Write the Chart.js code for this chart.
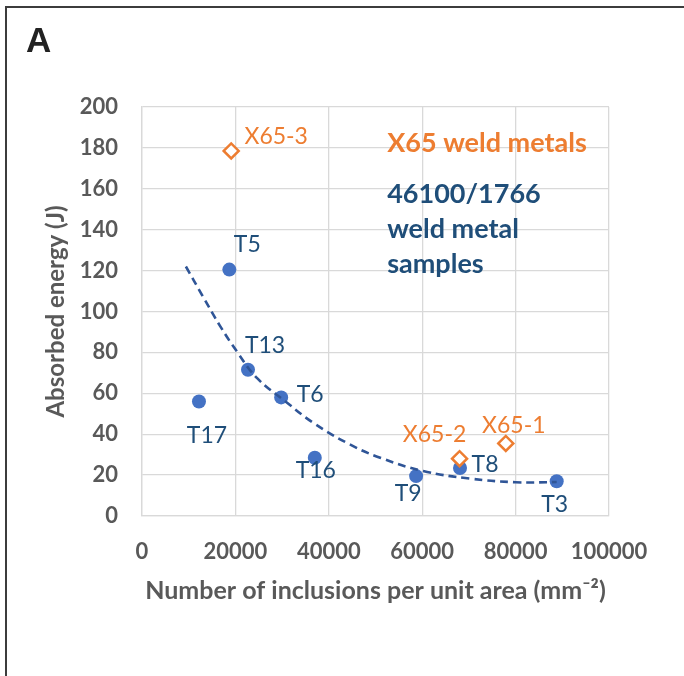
<!DOCTYPE html>
<html>
<head>
<meta charset="utf-8">
<script src="https://cdn.jsdelivr.net/npm/chart.js@4.4.1/dist/chart.umd.min.js"></script>
<style>
  html, body { margin: 0; padding: 0; background: #fff; }
  #wrap { width: 684px; height: 676px; }
</style>
</head>
<body>
<div id="wrap"><canvas id="chart" width="684" height="676"></canvas></div>
<script>
// 46100/1766 weld metal samples
const sampleNames = ['T17', 'T5', 'T13', 'T6', 'T16', 'T9', 'T8', 'T3'];
const sampleInclusions = [12200, 18700, 22700, 29800, 37000, 58700, 68100, 88800];
const sampleEnergy = [56, 120.5, 71.5, 58, 28.5, 19.5, 23.5, 17];

// X65 weld metals
const x65Names = ['X65-3', 'X65-2', 'X65-1'];
const x65Inclusions = [19100, 68000, 77900];
const x65Energy = [178.5, 28, 35.5];

// trend line
const trendInclusions = [9400, 13000, 16700, 20300, 24600, 31000, 36700, 44500, 51000, 60200, 70200, 80000, 88800];
const trendEnergy = [122, 107.5, 93, 80.5, 67.5, 55.5, 45.5, 35, 28.5, 22, 18.3, 16.5, 16.6];

const xTicks = [0, 20000, 40000, 60000, 80000, 100000];
const yTicks = [0, 20, 40, 60, 80, 100, 120, 140, 160, 180, 200];

const BLUE = '#4472c4';
const NAVY = '#1f4e79';
const ORANGE = '#ed7d31';
const GREY = '#595959';
const FONT = 'Lato, Carlito, "Open Sans", sans-serif';

function toPoints(xs, ys) {
    return xs.map((x, i) => ({x: x, y: ys[i]}));
}

// where each point label sits, relative to its marker (px)
const labelShift = {
    'T17': [8, 34], 'T5': [18, -25], 'T13': [17, -24], 'T6': [29, -3],
    'T16': [1, 13], 'T9': [-8, 17], 'T8': [25, -3], 'T3': [-2, 23],
    'X65-3': [45, -14], 'X65-2': [-25, -24], 'X65-1': [8, -18]
};

// рамка, буква A, подписи точек и текст справа
const extrasPlugin = {
    id: 'extras',
    beforeDraw(chart) {
        const ctx = chart.ctx;
        ctx.save();
        ctx.fillStyle = '#fff';
        ctx.fillRect(0, 0, chart.width, chart.height);
        ctx.strokeStyle = '#3c3c3c';
        ctx.lineWidth = 2;
        ctx.beginPath();
        ctx.moveTo(6, chart.height);
        ctx.lineTo(6, 7);
        ctx.lineTo(chart.width, 7);
        ctx.stroke();
        ctx.fillStyle = '#222';
        ctx.font = 'bold 35px "Liberation Sans Narrow", "Liberation Sans", sans-serif';
        ctx.textBaseline = 'alphabetic';
        ctx.fillText('A', 26, 52);
        ctx.restore();
    },
    afterDatasetsDraw(chart) {
        const ctx = chart.ctx;
        const xs = chart.scales.x, ys = chart.scales.y;
        ctx.save();
        ctx.textAlign = 'center';
        ctx.textBaseline = 'middle';
        ctx.font = '23px ' + FONT;
        chart.data.datasets.forEach((ds, di) => {
            if (!ds.names) return;
            const meta = chart.getDatasetMeta(di);
            ctx.fillStyle = ds.labelColor;
            meta.data.forEach((el, i) => {
                const name = ds.names[i];
                const s = labelShift[name] || [0, 0];
                ctx.fillText(name, el.x + s[0], el.y + s[1]);
            });
        });

        // текст-легенда
        const left = xs.getPixelForValue(52500);
        ctx.textAlign = 'left';
        ctx.textBaseline = 'alphabetic';
        ctx.font = 'bold 27px ' + FONT;
        ctx.fillStyle = ORANGE;
        ctx.fillText('X65 weld metals', left, ys.getPixelForValue(178));
        ctx.fillStyle = NAVY;
        ctx.fillText('46100/1766', left, ys.getPixelForValue(153));
        ctx.fillText('weld metal', left, ys.getPixelForValue(136));
        ctx.fillText('samples', left, ys.getPixelForValue(119));
        ctx.restore();
    }
};

const chart = new Chart(document.getElementById('chart'), {
    type: 'scatter',
    data: {
        datasets: [
            {
                label: 'trend',
                data: toPoints(trendInclusions, trendEnergy),
                showLine: true,
                borderColor: '#2f5597',
                borderWidth: 2.6,
                borderDash: [8, 5],
                tension: 0.4,
                pointRadius: 0,
                order: 0
            },
            {
                label: 'X65 weld metals',
                data: toPoints(x65Inclusions, x65Energy),
                names: x65Names,
                labelColor: ORANGE,
                pointStyle: 'rectRot',
                pointRadius: 7.5,
                borderColor: ORANGE,
                backgroundColor: '#fff',
                borderWidth: 2.5,
                order: 1
            },
            {
                label: '46100/1766 weld metal samples',
                data: toPoints(sampleInclusions, sampleEnergy),
                names: sampleNames,
                labelColor: NAVY,
                pointRadius: 7,
                borderWidth: 0,
                backgroundColor: BLUE,
                borderColor: BLUE,
                order: 2
            }
        ]
    },
    options: {
        responsive: false,
        animation: false,
        events: [],
        layout: {padding: {left: 20, top: 107, right: 75, bottom: 60}},
        plugins: {
            legend: {display: false},
            tooltip: {enabled: false}
        },
        scales: {
            x: {
                type: 'linear',
                min: 0,
                max: 100000,
                afterBuildTicks: s => { s.ticks = xTicks.map(v => ({value: v})); },
                afterFit: s => { s.height = 100; },
                grid: {color: '#d9d9d9', lineWidth: 1.3, drawTicks: false},
                border: {color: '#d9d9d9', width: 1.3},
                ticks: {
                    padding: 23,
                    color: GREY,
                    font: {family: FONT, size: 22, weight: 'bold'},
                    callback: v => String(v)
                },
                title: {
                    display: true,
                    text: 'Number of inclusions per unit area (mm⁻²)',
                    color: GREY,
                    font: {family: FONT, size: 25, weight: 'bold'},
                    padding: {top: 0, bottom: 10}
                }
            },
            y: {
                type: 'linear',
                min: 0,
                max: 200,
                afterBuildTicks: s => { s.ticks = yTicks.map(v => ({value: v})); },
                afterFit: s => { s.width = 122; },
                grid: {color: '#d9d9d9', lineWidth: 1.3, drawTicks: false},
                border: {color: '#d9d9d9', width: 1.3},
                ticks: {
                    padding: 24,
                    color: GREY,
                    font: {family: FONT, size: 22, weight: 'bold'}
                },
                title: {
                    display: true,
                    text: 'Absorbed energy (J)',
                    color: GREY,
                    font: {family: FONT, size: 24, weight: 'bold'},
                    padding: {top: 22, bottom: 0}
                }
            }
        }
    },
    plugins: [extrasPlugin]
});
</script>
</body>
</html>
